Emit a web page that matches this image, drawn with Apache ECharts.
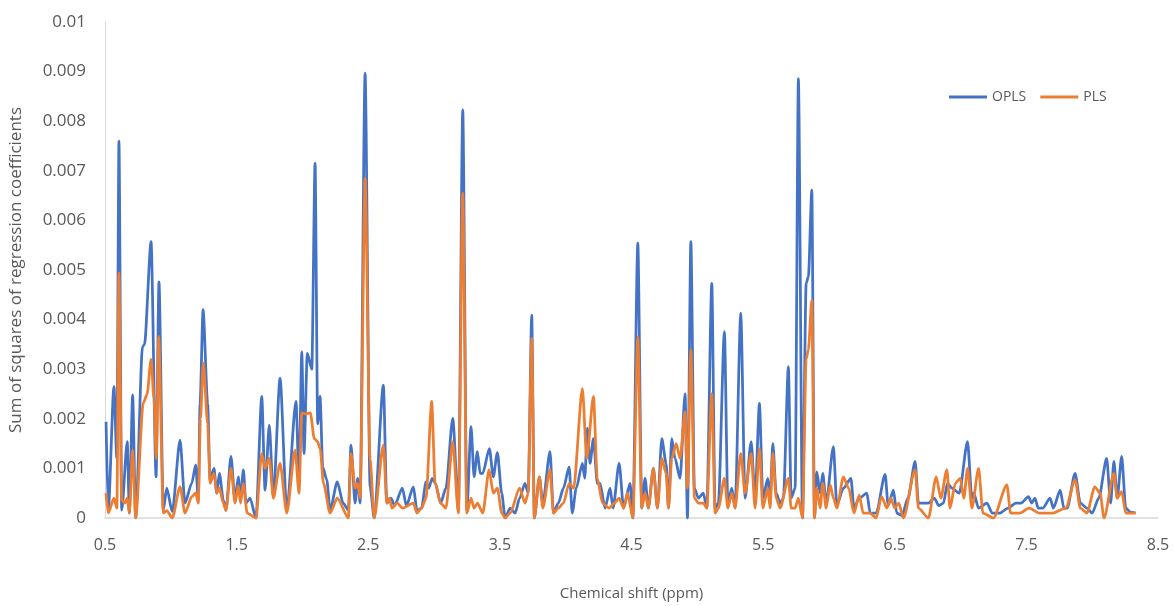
<!DOCTYPE html>
<html>
<head>
<meta charset="utf-8">
<title>Sum of squares of regression coefficients</title>
<script src="https://cdn.jsdelivr.net/npm/echarts@6/dist/echarts.min.js"></script>
<style>
  html, body { margin: 0; padding: 0; background: #ffffff; }
  #chart { width: 1174px; height: 606px; }
</style>
</head>
<body>
<div id="chart"></div>
<script>
// Chemical shift (ppm) and sum of squared regression coefficients, peaks and valleys
const oplsShift = [
  0.508, 0.525, 0.568, 0.590, 0.606, 0.627, 0.669, 0.685, 0.710, 0.733,
  0.785, 0.800, 0.850, 0.888, 0.910, 0.943, 0.969, 1.011, 1.070, 1.108,
  1.159, 1.189, 1.209, 1.222, 1.245, 1.280, 1.298, 1.328, 1.349, 1.369,
  1.399, 1.419, 1.457, 1.488, 1.513, 1.530, 1.551, 1.571, 1.602, 1.647,
  1.691, 1.716, 1.748, 1.779, 1.830, 1.881, 1.951, 1.974, 1.995, 2.012,
  2.037, 2.071, 2.096, 2.116, 2.134, 2.154, 2.185, 2.210, 2.265, 2.309,
  2.349, 2.369, 2.400, 2.419, 2.438, 2.476, 2.514, 2.545, 2.615, 2.641,
  2.673, 2.700, 2.759, 2.790, 2.843, 2.870, 2.905, 2.939, 2.960, 2.985,
  3.010, 3.050, 3.090, 3.142, 3.185, 3.218, 3.249, 3.281, 3.304, 3.329,
  3.350, 3.370, 3.420, 3.450, 3.481, 3.514, 3.540, 3.578, 3.616, 3.650,
  3.691, 3.715, 3.742, 3.762, 3.800, 3.826, 3.881, 3.907, 3.944, 3.983,
  4.026, 4.050, 4.080, 4.127, 4.145, 4.165, 4.185, 4.211, 4.240, 4.261,
  4.299, 4.337, 4.360, 4.406, 4.440, 4.489, 4.510, 4.548, 4.578, 4.603,
  4.628, 4.666, 4.697, 4.730, 4.763, 4.781, 4.806, 4.831, 4.869, 4.907,
  4.925, 4.951, 4.978, 5.008, 5.046, 5.072, 5.110, 5.135, 5.160, 5.206,
  5.232, 5.262, 5.287, 5.330, 5.363, 5.409, 5.439, 5.472, 5.498, 5.536,
  5.553, 5.574, 5.599, 5.629, 5.654, 5.692, 5.713, 5.743, 5.768, 5.799,
  5.827, 5.844, 5.870, 5.890, 5.908, 5.933, 5.953, 5.979, 6.034, 6.060,
  6.110, 6.167, 6.190, 6.230, 6.288, 6.313, 6.359, 6.427, 6.450, 6.490,
  6.515, 6.555, 6.600, 6.655, 6.680, 6.718, 6.756, 6.800, 6.835, 6.870,
  6.900, 6.935, 6.990, 7.053, 7.086, 7.100, 7.137, 7.200, 7.240, 7.300,
  7.360, 7.420, 7.460, 7.516, 7.540, 7.565, 7.590, 7.625, 7.680, 7.705,
  7.757, 7.785, 7.810, 7.870, 7.910, 7.960, 8.000, 8.050, 8.110, 8.140,
  8.165, 8.190, 8.224, 8.255, 8.290, 8.330
];
const oplsValues = [
  0.00194, 0.00016, 0.00265, 0.00120, 0.00760, 0.00016, 0.00154, 0.00010, 0.00248, 0.00000,
  0.00345, 0.00350, 0.00557, 0.00083, 0.00476, 0.00016, 0.00060, 0.00013, 0.00157, 0.00030,
  0.00070, 0.00107, 0.00036, 0.00230, 0.00420, 0.00230, 0.00077, 0.00100, 0.00050, 0.00090,
  0.00036, 0.00016, 0.00124, 0.00036, 0.00083, 0.00036, 0.00097, 0.00030, 0.00040, 0.00000,
  0.00245, 0.00056, 0.00187, 0.00043, 0.00282, 0.00016, 0.00235, 0.00077, 0.00335, 0.00130,
  0.00332, 0.00300, 0.00715, 0.00190, 0.00245, 0.00103, 0.00077, 0.00016, 0.00073, 0.00030,
  0.00016, 0.00147, 0.00030, 0.00080, 0.00030, 0.00897, 0.00063, 0.00000, 0.00268, 0.00030,
  0.00040, 0.00025, 0.00060, 0.00025, 0.00063, 0.00015, 0.00020, 0.00073, 0.00060, 0.00080,
  0.00070, 0.00030, 0.00060, 0.00201, 0.00016, 0.00823, 0.00016, 0.00184, 0.00083, 0.00134,
  0.00090, 0.00090, 0.00140, 0.00083, 0.00132, 0.00050, 0.00000, 0.00020, 0.00010, 0.00040,
  0.00070, 0.00050, 0.00409, 0.00000, 0.00083, 0.00030, 0.00134, 0.00010, 0.00030, 0.00060,
  0.00103, 0.00010, 0.00060, 0.00110, 0.00080, 0.00181, 0.00110, 0.00160, 0.00070, 0.00070,
  0.00020, 0.00060, 0.00020, 0.00110, 0.00020, 0.00070, 0.00000, 0.00554, 0.00020, 0.00080,
  0.00020, 0.00100, 0.00020, 0.00160, 0.00110, 0.00020, 0.00160, 0.00120, 0.00080, 0.00251,
  0.00000, 0.00557, 0.00060, 0.00040, 0.00050, 0.00020, 0.00473, 0.00020, 0.00030, 0.00376,
  0.00030, 0.00060, 0.00020, 0.00413, 0.00040, 0.00154, 0.00040, 0.00231, 0.00040, 0.00080,
  0.00040, 0.00150, 0.00050, 0.00030, 0.00040, 0.00305, 0.00040, 0.00060, 0.00886, 0.00000,
  0.00473, 0.00487, 0.00661, 0.00000, 0.00093, 0.00050, 0.00090, 0.00030, 0.00144, 0.00026,
  0.00060, 0.00080, 0.00020, 0.00040, 0.00050, 0.00010, 0.00010, 0.00088, 0.00025, 0.00056,
  0.00010, 0.00005, 0.00040, 0.00114, 0.00030, 0.00030, 0.00030, 0.00040, 0.00025, 0.00030,
  0.00070, 0.00060, 0.00050, 0.00154, 0.00040, 0.00050, 0.00020, 0.00030, 0.00010, 0.00010,
  0.00020, 0.00030, 0.00030, 0.00043, 0.00030, 0.00040, 0.00020, 0.00020, 0.00040, 0.00020,
  0.00056, 0.00020, 0.00020, 0.00090, 0.00030, 0.00020, 0.00010, 0.00040, 0.00120, 0.00030,
  0.00114, 0.00040, 0.00124, 0.00020, 0.00012, 0.00010
];

const plsShift = [
  0.508, 0.525, 0.568, 0.590, 0.606, 0.627, 0.650, 0.669, 0.685, 0.710,
  0.733, 0.791, 0.820, 0.850, 0.872, 0.890, 0.908, 0.943, 0.969, 1.011,
  1.070, 1.108, 1.159, 1.189, 1.209, 1.225, 1.247, 1.280, 1.298, 1.328,
  1.349, 1.369, 1.399, 1.419, 1.457, 1.488, 1.513, 1.530, 1.551, 1.580,
  1.647, 1.691, 1.716, 1.748, 1.779, 1.830, 1.881, 1.944, 1.974, 1.995,
  2.020, 2.060, 2.090, 2.115, 2.134, 2.160, 2.210, 2.265, 2.349, 2.369,
  2.400, 2.419, 2.438, 2.476, 2.514, 2.545, 2.615, 2.641, 2.660, 2.680,
  2.720, 2.760, 2.843, 2.870, 2.905, 2.939, 2.982, 3.008, 3.050, 3.090,
  3.142, 3.185, 3.218, 3.249, 3.281, 3.304, 3.330, 3.370, 3.418, 3.450,
  3.481, 3.514, 3.540, 3.578, 3.650, 3.691, 3.715, 3.742, 3.762, 3.800,
  3.826, 3.881, 3.907, 3.944, 3.983, 4.026, 4.060, 4.127, 4.160, 4.211,
  4.240, 4.280, 4.330, 4.370, 4.406, 4.440, 4.470, 4.510, 4.548, 4.578,
  4.603, 4.628, 4.666, 4.697, 4.730, 4.763, 4.781, 4.806, 4.840, 4.869,
  4.907, 4.925, 4.951, 4.978, 5.008, 5.046, 5.072, 5.110, 5.135, 5.160,
  5.206, 5.232, 5.262, 5.287, 5.330, 5.363, 5.409, 5.439, 5.472, 5.498,
  5.536, 5.553, 5.574, 5.599, 5.629, 5.692, 5.713, 5.743, 5.768, 5.799,
  5.827, 5.844, 5.870, 5.890, 5.908, 5.933, 5.953, 5.979, 6.010, 6.034,
  6.060, 6.110, 6.150, 6.190, 6.230, 6.260, 6.313, 6.359, 6.400, 6.440,
  6.470, 6.500, 6.530, 6.566, 6.655, 6.680, 6.756, 6.815, 6.850, 6.896,
  6.920, 6.960, 6.997, 7.025, 7.053, 7.086, 7.137, 7.170, 7.250, 7.352,
  7.380, 7.450, 7.520, 7.600, 7.700, 7.800, 7.870, 7.910, 7.960, 8.020,
  8.060, 8.090, 8.165, 8.190, 8.224, 8.255, 8.330
];
const plsValues = [
  0.00050, 0.00010, 0.00040, 0.00020, 0.00494, 0.00036, 0.00030, 0.00040, 0.00010, 0.00137,
  0.00000, 0.00232, 0.00250, 0.00320, 0.00240, 0.00120, 0.00366, 0.00010, 0.00015, 0.00000,
  0.00063, 0.00010, 0.00043, 0.00050, 0.00030, 0.00200, 0.00312, 0.00190, 0.00070, 0.00090,
  0.00050, 0.00060, 0.00030, 0.00015, 0.00100, 0.00030, 0.00065, 0.00030, 0.00070, 0.00010,
  0.00000, 0.00130, 0.00100, 0.00120, 0.00040, 0.00110, 0.00010, 0.00137, 0.00050, 0.00212,
  0.00210, 0.00212, 0.00160, 0.00154, 0.00140, 0.00070, 0.00010, 0.00040, 0.00000, 0.00130,
  0.00060, 0.00070, 0.00040, 0.00685, 0.00120, 0.00000, 0.00147, 0.00030, 0.00040, 0.00020,
  0.00030, 0.00020, 0.00030, 0.00010, 0.00020, 0.00040, 0.00235, 0.00070, 0.00030, 0.00020,
  0.00154, 0.00010, 0.00655, 0.00010, 0.00040, 0.00020, 0.00030, 0.00010, 0.00097, 0.00050,
  0.00060, 0.00010, 0.00000, 0.00010, 0.00060, 0.00030, 0.00050, 0.00362, 0.00000, 0.00083,
  0.00020, 0.00097, 0.00010, 0.00020, 0.00030, 0.00070, 0.00060, 0.00261, 0.00120, 0.00245,
  0.00080, 0.00030, 0.00020, 0.00030, 0.00040, 0.00020, 0.00050, 0.00000, 0.00365, 0.00020,
  0.00050, 0.00020, 0.00100, 0.00020, 0.00120, 0.00090, 0.00020, 0.00120, 0.00150, 0.00120,
  0.00214, 0.00060, 0.00339, 0.00040, 0.00030, 0.00030, 0.00020, 0.00251, 0.00010, 0.00020,
  0.00080, 0.00020, 0.00050, 0.00020, 0.00130, 0.00050, 0.00130, 0.00020, 0.00140, 0.00020,
  0.00060, 0.00020, 0.00130, 0.00040, 0.00020, 0.00080, 0.00020, 0.00020, 0.00040, 0.00000,
  0.00320, 0.00340, 0.00440, 0.00000, 0.00060, 0.00020, 0.00070, 0.00020, 0.00067, 0.00040,
  0.00020, 0.00083, 0.00060, 0.00010, 0.00046, 0.00010, 0.00010, 0.00000, 0.00043, 0.00020,
  0.00040, 0.00020, 0.00030, 0.00000, 0.00097, 0.00020, 0.00000, 0.00083, 0.00040, 0.00097,
  0.00020, 0.00070, 0.00080, 0.00040, 0.00100, 0.00020, 0.00100, 0.00010, 0.00000, 0.00067,
  0.00010, 0.00010, 0.00020, 0.00010, 0.00010, 0.00020, 0.00077, 0.00020, 0.00010, 0.00063,
  0.00050, 0.00000, 0.00090, 0.00040, 0.00053, 0.00010, 0.00010
];

const xTicks = [0.5, 1.5, 2.5, 3.5, 4.5, 5.5, 6.5, 7.5, 8.5];
const seriesNames = ['OPLS', 'PLS'];

const pairs = (xs, ys) => xs.map((x, i) => [x, ys[i]]);
const labelColor = '#595959';
const font = 'Open Sans, Noto Sans, sans-serif';

const chart = echarts.init(document.getElementById('chart'), null, { renderer: 'canvas' });
chart.setOption({
  backgroundColor: '#ffffff',
  animation: false,
  grid: { left: 105, right: 16, top: 22, bottom: 88, containLabel: false },
  legend: {
    data: seriesNames,
    left: 944,
    top: 85,
    itemWidth: 38,
    itemHeight: 3,
    itemGap: 14,
    icon: 'rect',
    textStyle: { color: labelColor, fontSize: 14, fontFamily: font }
  },
  xAxis: {
    type: 'value',
    min: xTicks[0],
    max: xTicks[xTicks.length - 1],
    interval: 1,
    name: 'Chemical shift (ppm)',
    nameLocation: 'middle',
    nameGap: 68,
    nameTextStyle: { color: labelColor, fontSize: 15, fontFamily: font },
    axisLine: { show: true, lineStyle: { color: '#d9d9d9', width: 1.5 } },
    axisTick: { show: false },
    splitLine: { show: false },
    axisLabel: {
      color: labelColor, fontSize: 16, fontFamily: font, margin: 19,
      formatter: v => String(+v.toFixed(1))
    }
  },
  yAxis: {
    type: 'value',
    min: 0,
    max: 0.01,
    interval: 0.001,
    name: 'Sum of squares of regression coefficients',
    nameLocation: 'middle',
    nameGap: 80,
    nameTextStyle: { color: labelColor, fontSize: 17, fontFamily: font },
    axisLine: { show: true, lineStyle: { color: '#d9d9d9', width: 1 } },
    axisTick: { show: false },
    splitLine: { show: false },
    axisLabel: {
      color: labelColor, fontSize: 17, fontFamily: font, margin: 19,
      formatter: v => String(+v.toFixed(3))
    }
  },
  series: [
    {
      name: seriesNames[0],
      type: 'line',
      data: pairs(oplsShift, oplsValues),
      symbol: 'none',
      smooth: 0.25,
      smoothMonotone: 'x',
      lineStyle: { color: '#4472c4', width: 2.75 },
      itemStyle: { color: '#4472c4' }
    },
    {
      name: seriesNames[1],
      type: 'line',
      data: pairs(plsShift, plsValues),
      symbol: 'none',
      smooth: 0.25,
      smoothMonotone: 'x',
      lineStyle: { color: '#ed7d31', width: 2.75 },
      itemStyle: { color: '#ed7d31' }
    }
  ]
});
</script>
</body>
</html>
